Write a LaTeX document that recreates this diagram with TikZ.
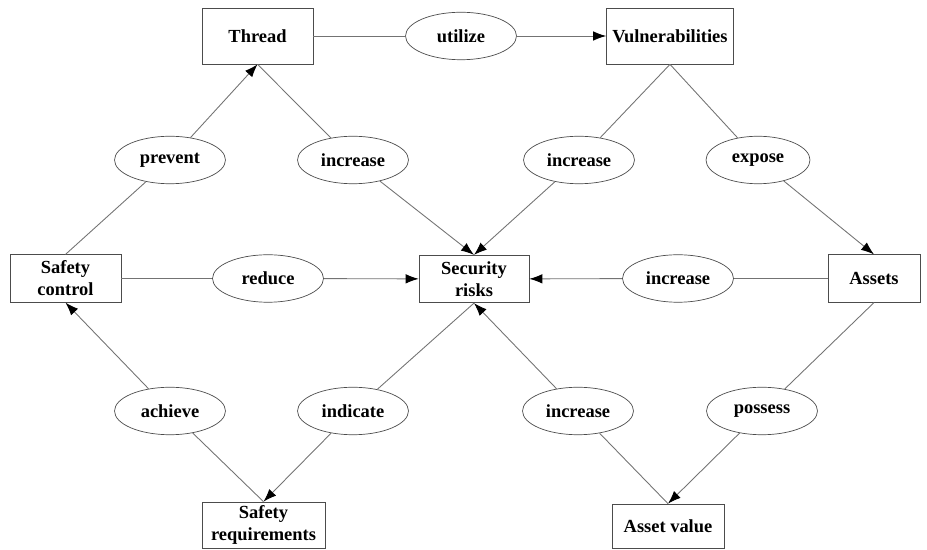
\documentclass[tikz,border=0pt]{standalone}
\usepackage{fontspec}
\setmainfont{Liberation Serif}
\usepackage{tikz}
\usetikzlibrary{shapes.geometric}
\usetikzlibrary{arrows.meta}

\begin{document}
\begin{tikzpicture}[
            x = 0.02cm,
            y = -0.02cm,
            box/.style = {
                draw = black!70,
                rectangle,
                minimum width = #1,
                minimum height = 0.95cm,
                inner sep = 0pt,
                align = center,
                font = \fontsize{10.5}{12.5}\selectfont\bfseries
            },
            box/.default = 2.22cm,
            oval/.style = {
                draw = black!70,
                ellipse,
                minimum width = 2.22cm,
                minimum height = 0.95cm,
                inner sep = 0pt,
                font = \fontsize{10.5}{12.5}\selectfont\bfseries
            },
            link/.style = {
                draw = black!55,
                line width = 0.5pt
            },
            arrowlink/.style = {
                link,
                -{Latex[length=2.6mm, width=1.9mm, black]}
            }
            ]
            \useasboundingbox (0,0) rectangle (927,550);

            % boxes
            \node[box, minimum height=1.12cm] (thread) at (257.5,36) {Thread};
            \node[box=2.54cm, minimum height=1.12cm] (vuln) at (670,36) {Vulnerabilities};
            \node[box] (control) at (65.5,278.5) {Safety\\control};
            \node[box=2.2cm] (risks) at (474,279) {Security\\risks};
            \node[box=1.84cm] (assets) at (874,278.5) {Assets};
            \node[box=2.46cm, minimum height=0.92cm] (require) at (263.5,525) {Safety\\requirements};
            \node[box=2.24cm, minimum height=0.88cm] (value) at (668,526) {Asset value};

            % relations
            \node[oval] (utilize) at (461,36) {utilize};
            \node[oval] (prevent) at (170,160) {prevent};
            \node[oval] (incA) at (353,160) {increase};
            \node[oval] (incB) at (579,160) {increase};
            \node[oval, minimum width=2.08cm] (expose) at (758,160) {expose};
            \node[oval] (reduce) at (268,278.5) {reduce};
            \node[oval] (incC) at (678,278.5) {increase};
            \node[oval] (achieve) at (170,411) {achieve};
            \node[oval] (indicate) at (353,411) {indicate};
            \node[oval] (incD) at (578,411) {increase};
            \node[oval] (possess) at (762,411) {possess};

            \draw[link] (thread) -- (utilize);
            \draw[arrowlink] (utilize) -- (vuln);
            \draw[link] (control.north) -- (prevent);
            \draw[arrowlink] (prevent) -- (thread.south);
            \draw[link] (thread.south) -- (incA);
            \draw[arrowlink] (incA) -- (risks.north);
            \draw[link] (vuln.south) -- (incB);
            \draw[arrowlink] (incB) -- (risks.north);
            \draw[link] (vuln.south) -- (expose);
            \draw[arrowlink] (expose) -- (assets.north);
            \draw[link] (control) -- (reduce);
            \draw[arrowlink] (reduce) -- (risks);
            \draw[link] (assets) -- (incC);
            \draw[arrowlink] (incC) -- (risks);
            \draw[link] (require.north) -- (achieve);
            \draw[arrowlink] (achieve) -- (control.south);
            \draw[link] (risks.south) -- (indicate);
            \draw[arrowlink] (indicate) -- (require.north);
            \draw[link] (value.north) -- (incD);
            \draw[arrowlink] (incD) -- (risks.south);
            \draw[link] (assets.south) -- (possess);
            \draw[arrowlink] (possess) -- (value.north);
        \end{tikzpicture}
\end{document}
